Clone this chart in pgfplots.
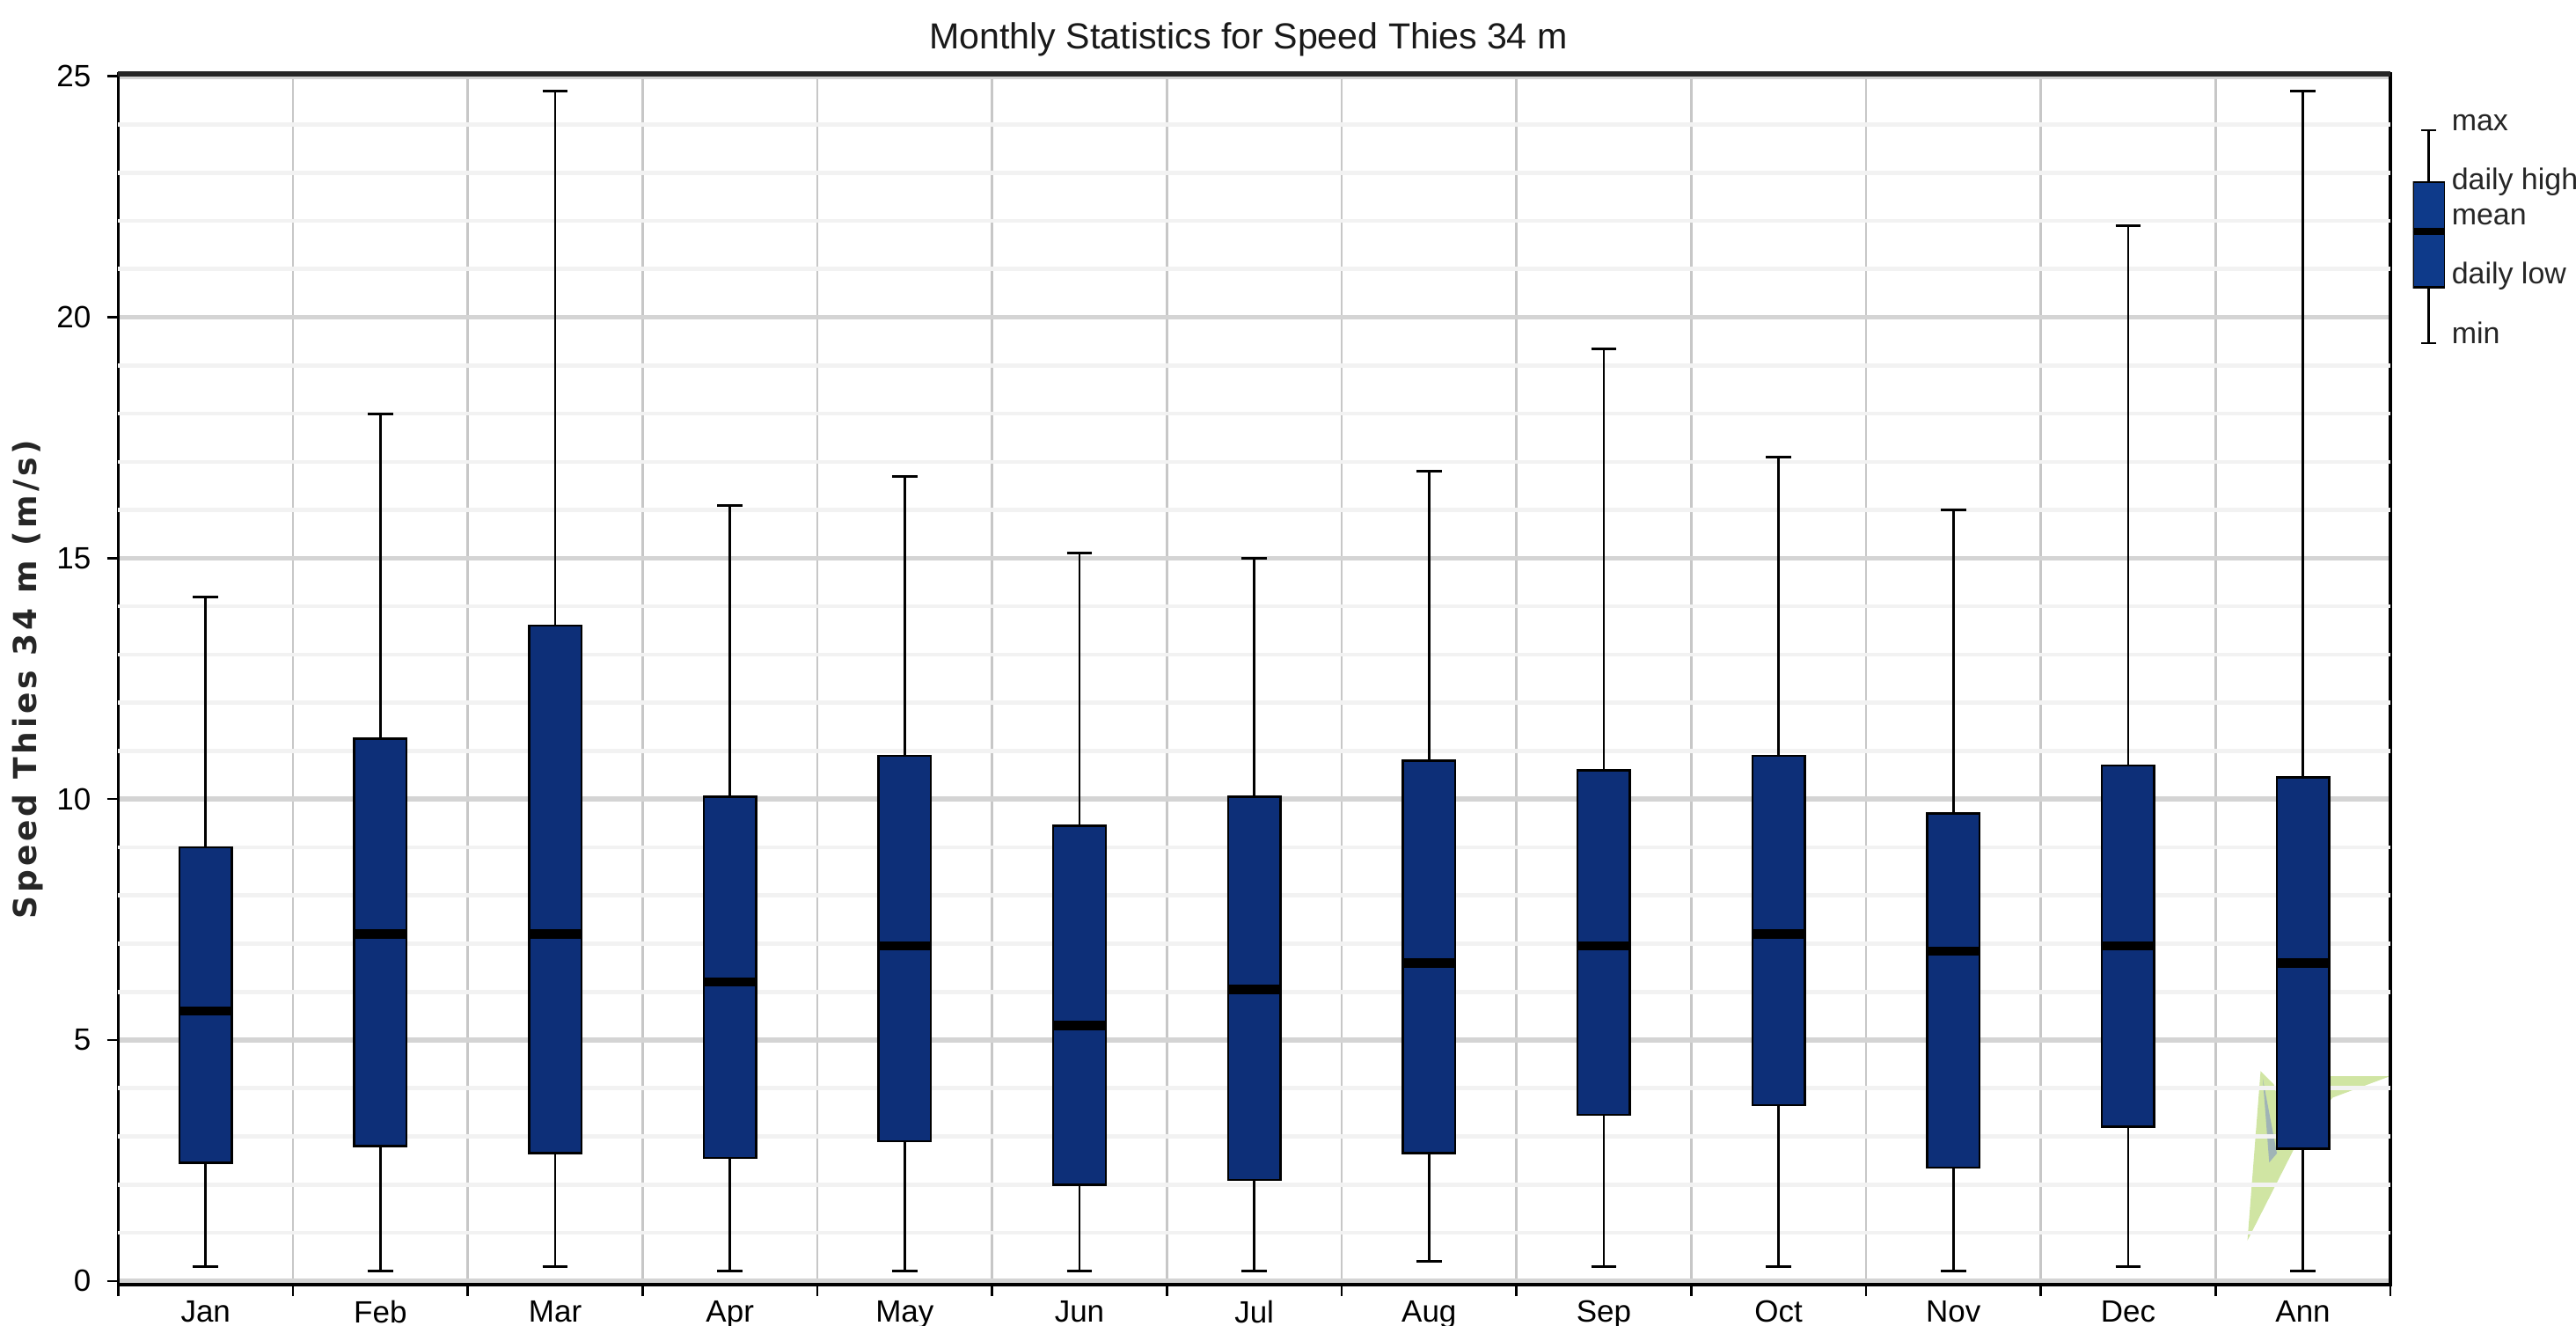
\documentclass[border=0pt]{standalone}
\usepackage{pgfplots}
\pgfplotsset{compat=1.18}
\usepgfplotslibrary{statistics}
\usepackage{fontspec}
\setmainfont{Liberation Sans}
\newfontfamily\ylabfont{DejaVu Sans}[LetterSpace=11]
\definecolor{boxblue}{RGB}{13,47,120}
\definecolor{legblue}{RGB}{14,58,138}
\definecolor{logogreen}{RGB}{196,222,140}
\definecolor{logoblue}{RGB}{140,160,190}
\newcommand{\bp}[6]{%
  \addplot[draw=black, line width=0.5pt, fill=boxblue,
    boxplot prepared={draw position=#1, lower whisker=#2, lower quartile=#3,
      median=#4, upper quartile=#5, upper whisker=#6}] coordinates {};}
\begin{document}
\begin{tikzpicture}
% faint logo watermark behind the last box
\fill[logogreen, opacity=0.8] (16.531,0.344) -- (16.633,1.658) -- (16.735,1.556) -- (16.888,1.046) -- cycle;
\fill[logogreen, opacity=0.8] (16.837,1.046) -- (17.003,1.620) -- (17.640,1.620) -- (17.194,1.454) -- cycle;
\fill[logoblue, opacity=0.7] (16.650,1.600) -- (16.760,1.020) -- (16.700,0.950) -- cycle;
\begin{axis}[
  at={(0cm,0cm)}, anchor=south west,
  scale only axis, width=17.640cm, height=9.400cm,
  xmin=0.5, xmax=13.5, ymin=-0.08, ymax=25.05,
  /pgf/number format/assume math mode=true,
  ticklabel style={font=\fontsize{6.8}{8}\selectfont},
  xtick={0.5,1.5,...,13.5}, xticklabels={},
  xmajorgrids, x grid style={black!22, line width=0.5pt},
  extra x ticks={1,2,...,13},
  extra x tick labels={Jan,Feb,Mar,Apr,May,Jun,Jul,Aug,Sep,Oct,Nov,Dec,Ann},
  extra x tick style={major tick length=0pt, grid=none},
  ytick={0,5,...,25},
  ymajorgrids, y grid style={black!17, line width=1.1pt},
  extra y ticks={1,2,3,4,6,7,8,9,11,12,13,14,16,17,18,19,21,22,23,24},
  extra y tick labels={},
  extra y tick style={major tick length=0pt, grid=major,
    y grid style={black!5, line width=0.9pt}},
  tick align=outside, tick pos=left, major tick length=2.5pt,
  tick style={black, line width=0.5pt},
  axis line style={black, line width=0.7pt},
  boxplot/draw direction=y,
  boxplot/box extend=0.30,
  boxplot/whisker extend=0.145,
  boxplot/every median/.style={black, line width=2.0pt},
  boxplot/every whisker/.style={black, line width=0.55pt},
]
\bp{1}{0.3}{2.45}{5.6}{9.0}{14.2}
\bp{2}{0.2}{2.8}{7.2}{11.25}{18.0}
\bp{3}{0.3}{2.65}{7.2}{13.6}{24.7}
\bp{4}{0.2}{2.55}{6.2}{10.05}{16.1}
\bp{5}{0.2}{2.9}{6.95}{10.9}{16.7}
\bp{6}{0.2}{2.0}{5.3}{9.45}{15.1}
\bp{7}{0.2}{2.1}{6.05}{10.05}{15.0}
\bp{8}{0.4}{2.65}{6.6}{10.8}{16.8}
\bp{9}{0.3}{3.45}{6.95}{10.6}{19.35}
\bp{10}{0.3}{3.65}{7.2}{10.9}{17.1}
\bp{11}{0.2}{2.35}{6.85}{9.7}{16.0}
\bp{12}{0.3}{3.2}{6.95}{10.7}{21.9}
\bp{13}{0.2}{2.75}{6.6}{10.45}{24.7}
\end{axis}
\draw[black!85, line width=1.1pt] (0cm,9.400cm) -- (17.640cm,9.400cm);
% legend glyph
\begin{axis}[
  at={(17.815cm,7.309cm)}, anchor=south west,
  scale only axis, width=0.249cm, height=1.658cm,
  xmin=0, xmax=1, ymin=0, ymax=130, hide axis,
  boxplot/draw direction=y,
  boxplot/box extend=1,
  boxplot/whisker extend=0.46,
  boxplot/every median/.style={black, line width=1.6pt},
  boxplot/every whisker/.style={black, line width=0.55pt},
]
\addplot[draw=black, line width=0.5pt, fill=legblue,
  boxplot prepared={draw position=0.5, lower whisker=0, lower quartile=34,
    median=68, upper quartile=98, upper whisker=130}] coordinates {};
\end{axis}
\begin{scope}[every node/.style={anchor=west, inner sep=0pt, font=\fontsize{6.6}{7}\selectfont, text=black!85}]
\node at (18.11,9.02) {max};
\node at (18.11,8.56) {daily high};
\node at (18.11,8.29) {mean};
\node at (18.11,7.83) {daily low};
\node at (18.11,7.39) {min};
\end{scope}
\node[font=\fontsize{8}{9}\selectfont, text=black!90] at (8.775,9.668) {Monthly Statistics for Speed Thies 34 m};
\node[rotate=90, font=\ylabfont\bfseries\fontsize{7}{8}\selectfont, text=black!85] at (-0.70,4.70) {Speed Thies 34 m (m/s)};
\pgfresetboundingbox
\path (-0.918,-0.319) rectangle (19.082,9.974);
\end{tikzpicture}
\end{document}
